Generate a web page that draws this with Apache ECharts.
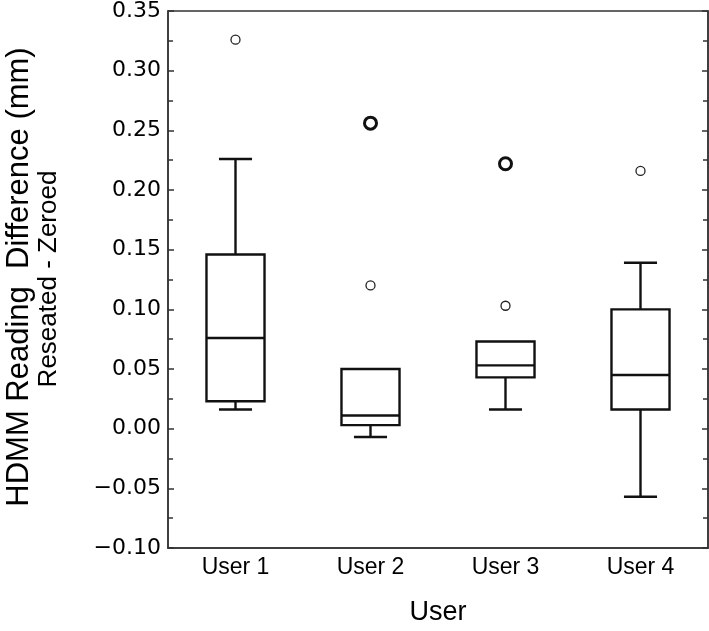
<!DOCTYPE html>
<html><head><meta charset="utf-8">
<script src="https://cdn.jsdelivr.net/npm/echarts@6/dist/echarts.min.js"></script>
<style>html,body{margin:0;padding:0;background:#fff}#c{width:709px;height:631px}</style>
</head><body><div id="c"></div>
<script>
const categories = ['User 1', 'User 2', 'User 3', 'User 4'];
const boxLow    = [0.016, -0.007, 0.016, -0.057];
const boxQ1     = [0.023,  0.003, 0.043,  0.016];
const boxMedian = [0.076,  0.011, 0.053,  0.045];
const boxQ3     = [0.146,  0.050, 0.073,  0.100];
const boxHigh   = [0.226,  0.050, 0.073,  0.139];
const outlierCat = [0, 1, 2, 3];
const outlierVal = [0.326, 0.120, 0.103, 0.216];
const outlierBoldCat = [1, 2];
const outlierBoldVal = [0.256, 0.222];
const yTitle1 = 'HDMM Reading  Difference (mm)';
const yTitle2 = 'Reseated - Zeroed';
const xTitle = 'User';

const boxData = categories.map((c, i) => [i, boxLow[i], boxQ1[i], boxMedian[i], boxQ3[i], boxHigh[i]]);
const outData = outlierCat.map((c, i) => [c, outlierVal[i]]);
const outBoldData = outlierBoldCat.map((c, i) => [c, outlierBoldVal[i]]);

const axisColor = '#333';
const chart = echarts.init(document.getElementById('c'), null, {renderer: 'canvas'});
const fmt = v => { const s = Math.abs(v) < 1e-9 ? '0.00' : v.toFixed(2); return s.replace('-', '\u2212'); };

chart.setOption({
  animation: false,
  backgroundColor: '#fff',
  grid: {left: 168, right: 1, top: 10, bottom: 83, show: true, borderColor: axisColor, borderWidth: 1.5, backgroundColor: 'transparent'},
  xAxis: {
    type: 'category', data: categories, boundaryGap: true,
    axisLine: {onZero: false, lineStyle: {color: axisColor, width: 1.5}},
    axisTick: {alignWithLabel: true, inside: true, length: 7, lineStyle: {color: axisColor, width: 1.5}},
    axisLabel: {margin: 8, fontFamily: 'Liberation Sans', fontSize: 23, color: '#000'},
    splitLine: {show: false},
    name: xTitle, nameLocation: 'middle', nameGap: 51,
    nameTextStyle: {fontFamily: 'Liberation Sans', fontSize: 27, color: '#000'}
  },
  yAxis: [{
    type: 'value', min: -0.1, max: 0.35, interval: 0.05,
    axisLine: {show: true, lineStyle: {color: axisColor, width: 1.5}},
    axisTick: {show: true, inside: true, length: 6, lineStyle: {color: axisColor, width: 1.5}},
    minorTick: {show: true, splitNumber: 2, length: 5, lineStyle: {color: axisColor, width: 1.5}},
    axisLabel: {margin: 7, fontFamily: 'DejaVu Sans', fontSize: 22, color: '#000', formatter: fmt},
    splitLine: {show: false}
  }, {
    type: 'value', min: -0.1, max: 0.35, interval: 0.05, position: 'right',
    axisLine: {show: true, lineStyle: {color: axisColor, width: 1.5}},
    axisTick: {show: true, inside: true, length: 6, lineStyle: {color: axisColor, width: 1.5}},
    minorTick: {show: true, splitNumber: 2, length: 5, lineStyle: {color: axisColor, width: 1.5}},
    axisLabel: {show: false},
    splitLine: {show: false}
  }],
  graphic: [
    {type: 'text', rotation: Math.PI / 2, x: 19, y: 277,
     style: {text: yTitle1, font: '31px "Liberation Sans"', textAlign: 'center', textVerticalAlign: 'middle', fill: '#000'}},
    {type: 'text', rotation: Math.PI / 2, x: 49, y: 279,
     style: {text: yTitle2, font: '26px "Liberation Sans"', textAlign: 'center', textVerticalAlign: 'middle', fill: '#000'}}
  ],
  series: [{
    type: 'custom',
    data: boxData,
    encode: {x: 0, y: [1, 2, 3, 4, 5]},
    renderItem: function (params, api) {
      const x = api.value(0);
      const lo = api.coord([x, api.value(1)]);
      const q1 = api.coord([x, api.value(2)]);
      const md = api.coord([x, api.value(3)]);
      const q3 = api.coord([x, api.value(4)]);
      const hi = api.coord([x, api.value(5)]);
      const band = api.size([1, 0])[0];
      const bw = band * 0.43, cw = band * 0.245;
      const cx = q1[0];
      const st = {stroke: '#111', lineWidth: 2.4, fill: null};
      const ch = [
        {type: 'rect', shape: {x: cx - bw / 2, y: q3[1], width: bw, height: q1[1] - q3[1]}, style: {stroke: '#111', lineWidth: 2.4, fill: 'none'}},
        {type: 'line', shape: {x1: cx - bw / 2, y1: md[1], x2: cx + bw / 2, y2: md[1]}, style: st}
      ];
      if (lo[1] - q1[1] > 0.5) {
        ch.push({type: 'line', shape: {x1: cx, y1: q1[1], x2: cx, y2: lo[1]}, style: st});
        ch.push({type: 'line', shape: {x1: cx - cw / 2, y1: lo[1], x2: cx + cw / 2, y2: lo[1]}, style: st});
      }
      if (q3[1] - hi[1] > 0.5) {
        ch.push({type: 'line', shape: {x1: cx, y1: q3[1], x2: cx, y2: hi[1]}, style: st});
        ch.push({type: 'line', shape: {x1: cx - cw / 2, y1: hi[1], x2: cx + cw / 2, y2: hi[1]}, style: st});
      }
      return {type: 'group', children: ch};
    }
  }, {
    type: 'scatter', data: outData, symbol: 'circle', symbolSize: 9,
    itemStyle: {color: '#fff', borderColor: '#222', borderWidth: 1.3, opacity: 1}
  }, {
    type: 'scatter', data: outBoldData, symbol: 'circle', symbolSize: 12,
    itemStyle: {color: '#fff', borderColor: '#111', borderWidth: 3, opacity: 1}
  }]
});
</script></body></html>
